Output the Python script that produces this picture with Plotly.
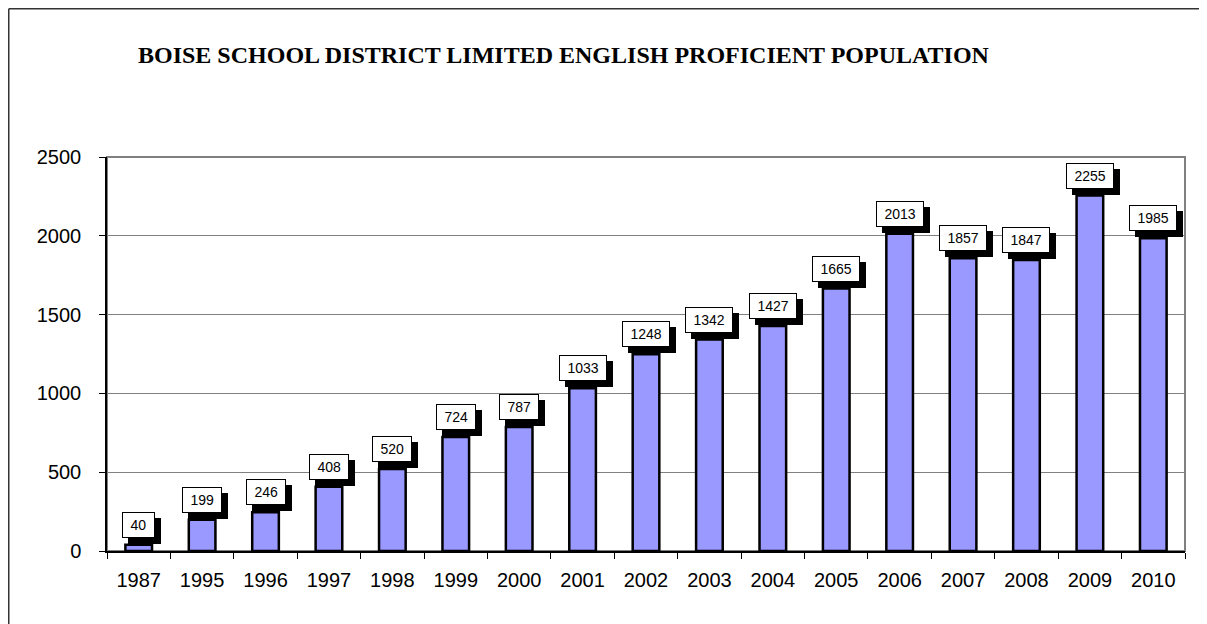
import plotly.graph_objects as go

years = ["1987", "1995", "1996", "1997", "1998", "1999", "2000", "2001", "2002",
         "2003", "2004", "2005", "2006", "2007", "2008", "2009", "2010"]
students = [40, 199, 246, 408, 520, 724, 787, 1033, 1248, 1342, 1427, 1665,
            2013, 1857, 1847, 2255, 1985]
y_ticks = [0, 500, 1000, 1500, 2000, 2500]

# page body has an 8px margin, so the figure is 8px smaller than the window
OFF = 8
W, H = 1207 - OFF, 624 - OFF
L, R, T, B = 107 - OFF, 22, 157 - OFF, 73
pw, ph = W - L - R, H - T - B

def px_x(p):  # reference-window pixel -> paper
    return (p - OFF - L) / pw

def px_y(p):
    return (H - B - (p - OFF)) / ph

LBL_FONT = "Arial, Liberation Sans, sans-serif"

fig = go.Figure()
fig.add_trace(go.Bar(
    x=years, y=students, width=0.42,
    marker=dict(color="#9999FF", line=dict(color="black", width=2.5)),
    hoverinfo="x+y",
))

annotations = []
for layer in ("shadow", "box"):
    for i, v in enumerate(students):
        txt = str(v)
        w = 7.8 * len(txt) + 13
        a = dict(x=i, y=v, xref="x", yref="y", showarrow=False,
                 yanchor="bottom", xanchor="center", width=w, height=22,
                 borderpad=1, borderwidth=1)
        if layer == "shadow":
            a.update(text=" ", bgcolor="black", bordercolor="black", xshift=6, yshift=1,
                     font=dict(family=LBL_FONT, size=14, color="black"))
        else:
            a.update(text=txt, bgcolor="white", bordercolor="black", yshift=7,
                     font=dict(family=LBL_FONT, size=14, color="black"))
        annotations.append(a)

annotations.append(dict(
    text="BOISE SCHOOL DISTRICT LIMITED ENGLISH PROFICIENT POPULATION",
    x=px_x(563.5), y=px_y(55), xref="paper", yref="paper", showarrow=False,
    xanchor="center", yanchor="middle",
    font=dict(family="Liberation Serif, serif", size=24, color="black", weight="bold"),
))

shapes = [
    dict(type="rect", xref="paper", yref="paper", x0=0, x1=1, y0=0, y1=1,
         line=dict(color="#808080", width=2), layer="below"),
    dict(type="line", xref="paper", yref="paper", x0=px_x(8.75), x1=px_x(1215),
         y0=px_y(8.75), y1=px_y(8.75), line=dict(color="#333333", width=1.5)),
    dict(type="line", xref="paper", yref="paper", x0=px_x(8.75), x1=px_x(8.75),
         y0=px_y(8.75), y1=px_y(640), line=dict(color="#333333", width=1.5)),
]

fig.update_layout(
    width=W, height=H,
    margin=dict(l=L, r=R, t=T, b=B, pad=0, autoexpand=False),
    paper_bgcolor="white", plot_bgcolor="white",
    showlegend=False,
    annotations=annotations, shapes=shapes,
    font=dict(family=LBL_FONT, color="black"),
)
fig.update_xaxes(
    type="category", range=[-0.5, len(years) - 0.5], automargin=False,
    showline=True, linecolor="black", linewidth=1.5,
    ticks="outside", ticklen=6, tickcolor="black", tickson="boundaries",
    tickfont=dict(size=20, color="black"), ticklabelstandoff=10, tickangle=0,
    showgrid=False, fixedrange=True,
)
fig.update_yaxes(
    range=[0, 2500], tickvals=y_ticks, automargin=False,
    showline=True, linecolor="black", linewidth=1.5,
    ticks="outside", ticklen=6, tickcolor="black",
    tickfont=dict(size=20, color="black"), ticklabelstandoff=14,
    showgrid=True, gridcolor="#808080", gridwidth=1, zeroline=False, fixedrange=True,
)

fig.write_html("out.html", config={"displayModeBar": False})
